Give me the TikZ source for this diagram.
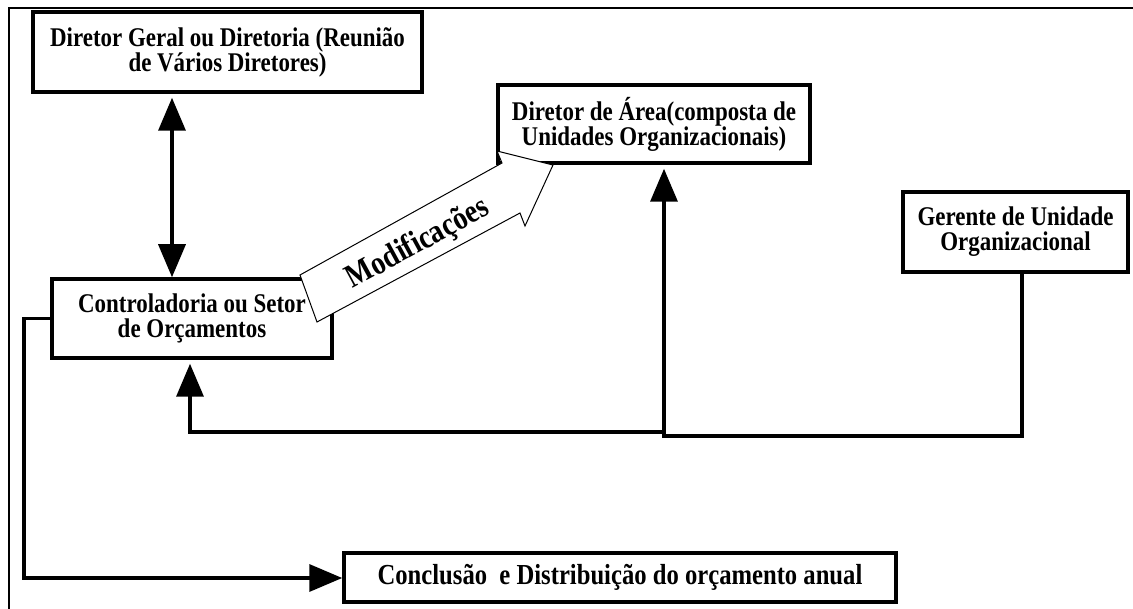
\documentclass[tikz,border=0pt]{standalone}
\usepackage{fontspec}
\setmainfont{Liberation Serif}[FakeStretch=0.85]
\usetikzlibrary{arrows.meta}
\tikzset{
  box/.style={draw, line width=3.5pt, fill=white, inner sep=0pt, align=center,
    font=\bfseries\fontsize{27}{25}\selectfont},
  conn/.style={line width=3.5pt},
  tip/.style={-{Triangle[width=27pt,length=33pt]}},
  frame/.style={line width=2.5pt},
}
\begin{document}
\begin{tikzpicture}[x=1pt,y=-1pt]
\useasboundingbox (0,0) rectangle (1133,609);
% frame
\draw[frame] (9,609) -- (9,8) -- (1133,8);
% boxes
\node[box, minimum width=389pt, minimum height=80pt] (DG) at (227.5,52)
  {Diretor Geral ou Diretoria (Reunião\\de Vários Diretores)};
\node[box, minimum width=280pt, minimum height=79pt] (Ctrl) at (192,318.5)
  {Controladoria ou Setor\\de Orçamentos};
\node[box, minimum width=312pt, minimum height=78pt] (DA) at (654,124)
  {Diretor de Área(composta de\\Unidades Organizacionais)};
\node[box, minimum width=225pt, minimum height=80pt] (Ger) at (1015.5,232)
  {Gerente de Unidade\\Organizacional};
\node[box, minimum width=552pt, minimum height=49pt, font=\bfseries\fontsize{29}{29}\selectfont] (Conc) at (620,577.5)
  {Conclusão\ \ e Distribuição do orçamento anual};
% coordinates
\coordinate (xa) at (172,0);
\coordinate (g1) at (1022,436);
\coordinate (j1) at (664,436);
\coordinate (j2) at (664,432);
\coordinate (c1) at (190,432);
\coordinate (l1) at (24,578);
% connectors
\draw[conn, {Triangle[width=27pt,length=33pt]}-{Triangle[width=27pt,length=33pt]}, shorten <=4pt]
  (DG.south -| xa) -- (Ctrl.north -| xa);
\draw[conn, tip, shorten >=4pt] (Ger.south -| g1) -- (g1) -- (j1) -- (DA.south -| j1);
\draw[conn, tip, shorten >=4pt] (j2) -- (c1) -- (Ctrl.south -| c1);
\draw[conn, tip] (Ctrl.west) -| (l1) -- (Conc.west |- l1);
% big hollow arrow
\draw[line width=1pt, fill=white, line join=miter]
  (300,275) -- (502,163) -- (497,151) -- (553,165) -- (525,226) -- (520,213) -- (317,322) -- cycle;
\node[font=\bfseries\fontsize{33}{33}\selectfont, rotate=28.5] (mod) at (418,244) {Modificações};
\end{tikzpicture}
\end{document}
